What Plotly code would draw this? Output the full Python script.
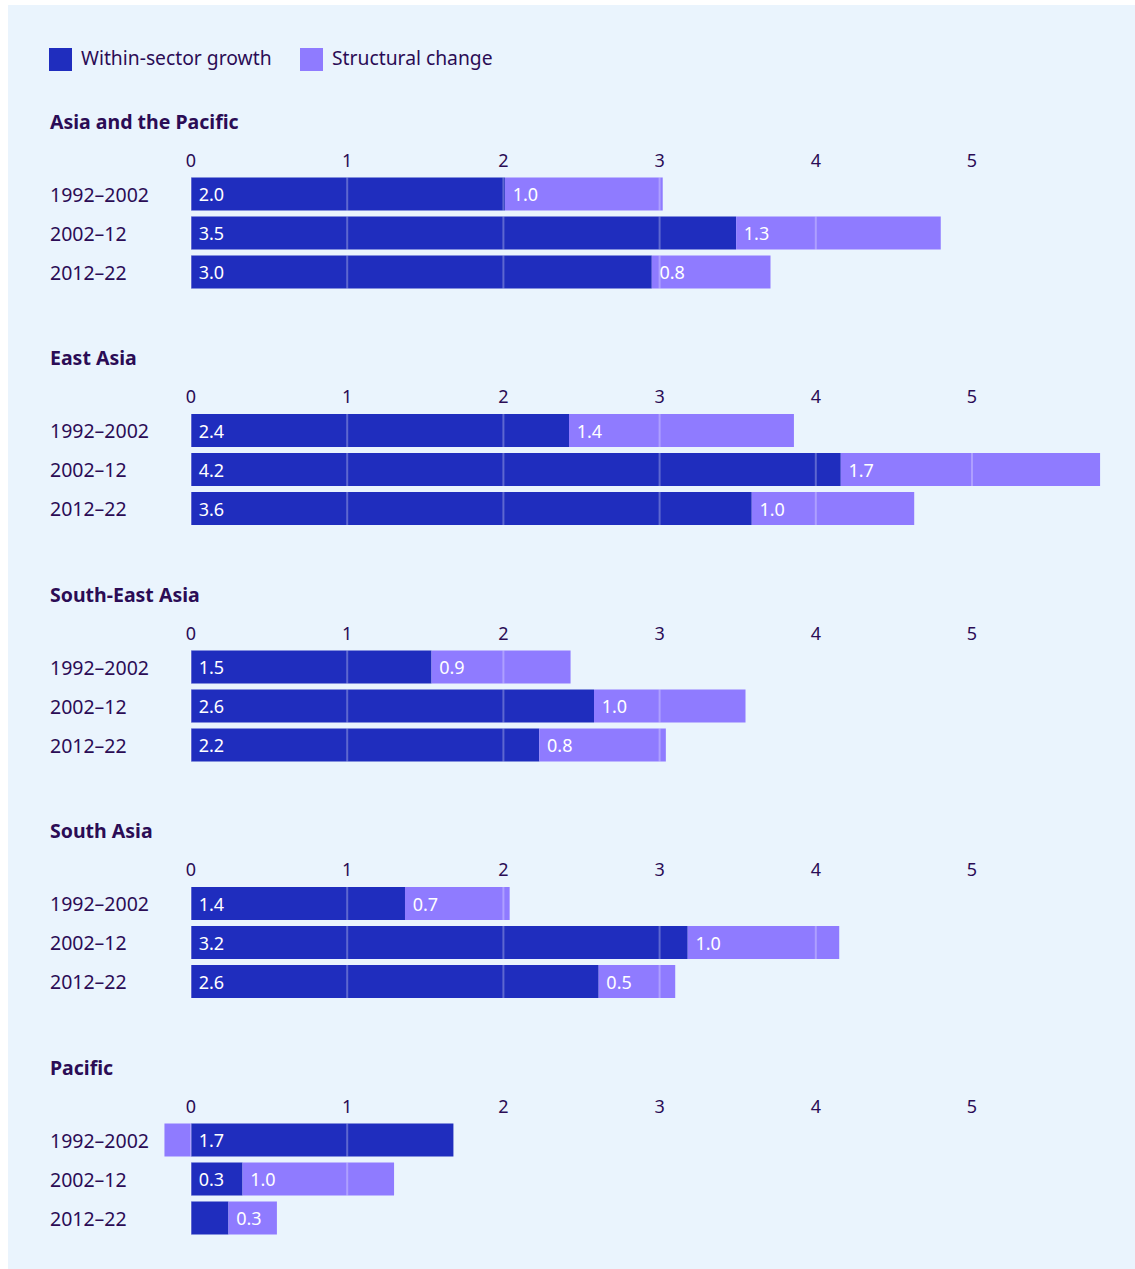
import plotly.graph_objects as go

# ---- data -------------------------------------------------------------
periods = ["1992–2002", "2002–12", "2012–22"]
regions = ["Asia and the Pacific", "East Asia", "South-East Asia", "South Asia", "Pacific"]

within_ap = [2.01, 3.49, 2.95]
within_ea = [2.42, 4.16, 3.59]
within_sea = [1.54, 2.58, 2.23]
within_sa = [1.37, 3.18, 2.61]
within_pac = [1.68, 0.33, 0.24]

struct_ap = [1.01, 1.31, 0.76]
struct_ea = [1.44, 1.66, 1.04]
struct_sea = [0.89, 0.97, 0.81]
struct_sa = [0.67, 0.97, 0.49]
struct_pac = [-0.17, 0.97, 0.31]

x_ticks = [0, 1, 2, 3, 4, 5]

within_all = [within_ap, within_ea, within_sea, within_sa, within_pac]
struct_all = [struct_ap, struct_ea, struct_sea, struct_sa, struct_pac]

# ---- styling ----------------------------------------------------------
W, H = 1135, 1269
C_WITHIN = "#1f2dbe"
C_STRUCT = "#8f7bff"
C_TEXT = "#2b0c55"
BG = "#eaf4fd"
FONT = "Noto Sans"
BARGAP = 0.154

# pixel geometry helpers (margins are zero, so paper coords = pixels / size)
def px_x(p):
    return p / W

def px_y(p):
    return 1 - p / H

X_LEFT, X_RIGHT = 160, 1113          # horizontal extent of every panel
PX_PER_UNIT = 156.2
X_ZERO = 191
x_range = [-(X_ZERO - X_LEFT) / PX_PER_UNIT, (X_RIGHT - X_ZERO) / PX_PER_UNIT]

PANEL_TOP0, PANEL_H, PANEL_STEP = 174.5, 117, 236.5


def label(v):
    return "\u00a0" + f"{v:.1f}" if abs(v) >= 0.25 else ""


fig = go.Figure()
layout = dict()
annotations = []
shapes = []

# panel background
shapes.append(dict(type="rect", xref="paper", yref="paper", x0=px_x(8), x1=1,
                   y0=0, y1=px_y(5), fillcolor=BG, line=dict(width=0), layer="below"))

for i, region in enumerate(regions):
    n = "" if i == 0 else str(i + 1)
    xa, ya = "x" + n, "y" + n
    top = PANEL_TOP0 + PANEL_STEP * i
    bottom = top + PANEL_H

    fig.add_trace(go.Bar(
        y=periods, x=within_all[i], orientation="h", xaxis=xa, yaxis=ya,
        marker=dict(color=C_WITHIN, line=dict(width=0)),
        text=[label(v) for v in within_all[i]], texttemplate="%{text}",
        textposition="inside", insidetextanchor="start",
        textfont=dict(color="white", size=18, family=FONT),
        name="Within-sector growth", showlegend=False, hoverinfo="x+y",
    ))
    fig.add_trace(go.Bar(
        y=periods, x=struct_all[i], orientation="h", xaxis=xa, yaxis=ya,
        marker=dict(color=C_STRUCT, line=dict(width=0)),
        text=[label(v) for v in struct_all[i]], texttemplate="%{text}",
        textposition="inside", insidetextanchor="start",
        textfont=dict(color="white", size=18, family=FONT),
        name="Structural change", showlegend=False, hoverinfo="x+y",
    ))

    layout["xaxis" + n] = dict(
        domain=[px_x(X_LEFT), px_x(X_RIGHT)], range=x_range, anchor=ya,
        side="top", tickvals=x_ticks, ticks="", showgrid=False, zeroline=False,
        showline=False, ticklabelstandoff=3,
        tickfont=dict(size=18, color=C_TEXT, family=FONT), fixedrange=True,
    )
    layout["yaxis" + n] = dict(
        domain=[px_y(bottom), px_y(top)], anchor=xa, type="category",
        categoryorder="array", categoryarray=periods, autorange="reversed",
        showticklabels=False, showgrid=False, zeroline=False, showline=False,
        ticks="", fixedrange=True,
    )

    # grid lines shown only across the bars, above them
    half = (1 - BARGAP) / 2
    for j, _ in enumerate(periods):
        vals = [within_all[i][j], struct_all[i][j]]
        lo = min(0, sum(v for v in vals if v < 0))
        hi = sum(v for v in vals if v > 0)
        for t in x_ticks:
            if lo <= t <= hi:
                shapes.append(dict(type="line", xref=xa, yref=ya, x0=t, x1=t,
                                   y0=j - half, y1=j + half,
                                   line=dict(color="rgba(255,255,255,0.28)", width=2),
                                   layer="above"))

    # region heading
    annotations.append(dict(text="<b>" + region + "</b>", xref="paper", yref="paper",
                            x=px_x(48), y=px_y(top - 53), xanchor="left", yanchor="middle",
                            showarrow=False, font=dict(size=19.5, color=C_TEXT, family=FONT)))
    # period labels
    for p in periods:
        annotations.append(dict(text=p, xref="paper", yref=ya, x=px_x(48), y=p,
                                xanchor="left", yanchor="middle", showarrow=False,
                                font=dict(size=19.5, color=C_TEXT, family=FONT)))

# legend built from swatches and labels
legend_items = [("Within-sector growth", C_WITHIN, 49), ("Structural change", C_STRUCT, 300)]
for name, color, x0 in legend_items:
    shapes.append(dict(type="rect", xref="paper", yref="paper",
                       x0=px_x(x0), x1=px_x(x0 + 23), y0=px_y(71), y1=px_y(48),
                       fillcolor=color, line=dict(width=0)))
    annotations.append(dict(text=name, xref="paper", yref="paper", x=px_x(x0 + 30),
                            y=px_y(58), xanchor="left", yanchor="middle", showarrow=False,
                            font=dict(size=19.3, color=C_TEXT, family=FONT)))

fig.update_layout(
    width=W, height=H, margin=dict(l=0, r=0, t=0, b=0),
    paper_bgcolor="white", plot_bgcolor="rgba(0,0,0,0)",
    barmode="relative", bargap=BARGAP,
    font=dict(family=FONT, color=C_TEXT),
    showlegend=False, annotations=annotations, shapes=shapes,
    **layout,
)

fig.write_html("out.html")
